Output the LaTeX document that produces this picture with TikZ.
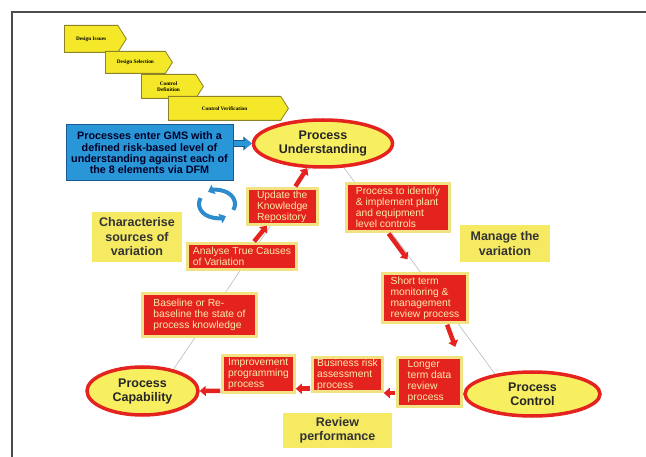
\documentclass[tikz,border=0pt]{standalone}
\usepackage{fontspec}
\setmainfont{Liberation Sans}
\newfontfamily\chevfont{Liberation Serif}
\usepackage{xcolor}
\usetikzlibrary{arrows.meta,positioning,shapes.geometric,shapes.symbols,backgrounds}
\definecolor{pyellow}{RGB}{247,238,96}
\definecolor{lyellow}{RGB}{245,234,98}
\definecolor{chevyellow}{RGB}{245,232,40}
\definecolor{chevedge}{RGB}{140,130,40}
\definecolor{pred}{RGB}{228,34,30}
\definecolor{redrim}{RGB}{243,226,130}
\definecolor{cream}{RGB}{250,236,170}
\definecolor{gmsblue}{RGB}{40,150,215}
\definecolor{gmsedge}{RGB}{25,90,150}
\definecolor{loopblue}{RGB}{45,140,205}

\begin{document}
\begin{tikzpicture}[x=1pt, y=-1pt,
    chev/.style={signal, signal to=east, signal pointer angle=115, draw=chevedge, fill=chevyellow, line width=0.8pt, anchor=north west, inner sep=1pt, align=center, font=\chevfont\bfseries\fontsize{5.3}{6}\selectfont},
    phase/.style={ellipse, draw=pred, line width=3.5pt, fill=pyellow, inner sep=0pt, align=center, text=black!85, font=\bfseries\fontsize{12.5}{14}\selectfont},
    stepbox/.style={rectangle, draw=redrim, line width=2.5pt, fill=pred, inner xsep=3pt, inner ysep=1pt, align=left, text=cream, font=\fontsize{10.3}{11}\selectfont},
    tag/.style={rectangle, fill=lyellow, inner sep=2pt, align=center, text=black!80, font=\bfseries\fontsize{12.5}{14.5}\selectfont},
    gmsbox/.style={rectangle, draw=gmsedge, line width=1pt, fill=gmsblue, inner sep=2pt, align=center, text=black!85!blue, font=\bfseries\fontsize{10.8}{11.3}\selectfont},
    link/.style={draw=gray!55, line width=0.6pt},
    flow/.style={draw=pred, line width=4.5pt, -{Triangle[length=6pt,width=10pt]}, shorten <=1pt},
    entry/.style={draw=gmsblue, line width=5pt, -{Triangle[length=7pt,width=11pt]},
        preaction={draw=gmsedge, line width=6.6pt, -{Triangle[length=8.5pt,width=13.5pt]}}},
    loopicon/.style={draw=loopblue, line width=4pt, -{Triangle[length=6pt,width=10pt]}},
    frameline/.style={draw=black!70, line width=1.2pt}
]
    \useasboundingbox (0,0) rectangle (646,457);
    \draw[frameline] (646,12) -| (12,457);

    % Design stages
    \node[chev, minimum width=62pt, minimum height=27pt] (issues) at (64,25) {Design Issues};
    \node[chev, minimum width=67pt, minimum height=22pt] (selection) at (105,51) {Design Selection};
    \node[chev, minimum width=62pt, minimum height=24pt] (definition) at (141,74) {Control\\Definition};
    \node[chev, minimum width=120pt, minimum height=24pt] (verification) at (168,96) {Control Verification};

    % Phases
    \node[phase, minimum width=139pt, minimum height=47pt] (pu) at (323,143.5) {Process\\Understanding};
    \node[phase, minimum width=135pt, minimum height=44pt] (pc) at (532.5,394) {Process\\Control};
    \node[phase, minimum width=111pt, minimum height=48pt] (cap) at (142.5,391) {Process\\Capability};

    % Entry into GMS
    \node[gmsbox, minimum width=167pt, minimum height=56pt] (gms) at (149.5,153) {Processes enter GMS with a\\defined risk-based level of\\understanding against each of\\the 8 elements via DFM};

    % Characterise side
    \node[stepbox, minimum width=70pt, minimum height=36pt] (update) at (282.5,206.5) {Update the\\Knowledge\\Repository};
    \node[stepbox, minimum width=109pt, minimum height=26pt] (analyse) at (242,256.5) {Analyse True Causes\\of Variation};
    \node[stepbox, minimum width=114pt, minimum height=43pt] (baseline) at (199.5,315) {Baseline or Re-\\baseline the state of\\process knowledge};
    \node[tag, minimum width=90pt, minimum height=50pt] (characterise) at (137,237) {Characterise\\sources of\\variation};

    % Manage side
    \node[stepbox, minimum width=103pt, minimum height=48pt] (identify) at (398,207.5) {Process to identify\\\& implement plant\\and equipment\\level controls};
    \node[stepbox, minimum width=85pt, minimum height=49pt] (short) at (425,298) {Short term\\monitoring \&\\management\\review process};
    \node[tag, minimum width=90pt, minimum height=37pt] (manage) at (505,243.5) {Manage the\\variation};

    % Review row
    \node[stepbox, minimum width=64pt, minimum height=49pt] (longer) at (429.5,382) {Longer\\term data\\review\\process};
    \node[stepbox, minimum width=70pt, minimum height=34pt] (business) at (347.5,374.5) {Business risk\\assessment\\process};
    \node[stepbox, minimum width=72pt, minimum height=37pt] (improvement) at (258.5,374) {Improvement\\programming\\process};
    \node[tag, minimum width=109pt, minimum height=35pt] (review) at (337.5,430.5) {Review\\performance};

    % Cycle icon
    \coordinate (loopc) at (217,204);
    \draw[loopicon] ([shift={(-25:18pt and 14pt)}]loopc) arc[start angle=-25, end angle=120, x radius=18pt, y radius=14pt];
    \draw[loopicon] ([shift={(155:18pt and 14pt)}]loopc) arc[start angle=155, end angle=300, x radius=18pt, y radius=14pt];

    % Triangle of phases
    \begin{scope}[on background layer]
        \draw[link] (cap.35) -- (pu.241);
        \draw[link] (pu.311) -- (pc.152);
    \end{scope}

    % Flow arrows
    \draw[entry] (gms.east |- pu.west) -- (pu.west);
    \draw[flow] (analyse) -- (update);
    \draw[flow] (update) -- (pu);
    \draw[flow, shorten >=16pt] ([xshift=-10pt]identify.south) -- ([xshift=-8pt]short.north);
    \draw[flow, shorten >=10pt] ([xshift=-22pt]short.south east) -- ([xshift=-4pt]longer.north east);
    \draw[flow] ([yshift=-11pt]longer.west) -- ([yshift=-11pt]longer.west -| business.east);
    \draw[flow] ([yshift=4pt]business.south west) -- ([yshift=4pt]business.south west -| improvement.east);
    \draw[flow] ([yshift=3pt]improvement.south west) -- (cap.east);
\end{tikzpicture}
\end{document}
